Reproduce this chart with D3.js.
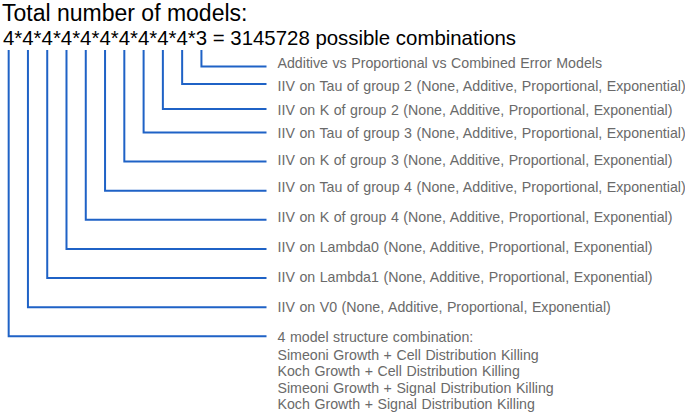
<!DOCTYPE html>
<html>
<head>
<meta charset="utf-8">
<script src="https://cdn.jsdelivr.net/npm/d3@7"></script>
<style>
  html, body { margin: 0; padding: 0; background: #fff; }
  svg { display: block; font-family: "Liberation Sans", Arial, Helvetica, sans-serif; }
</style>
</head>
<body>
<svg id="chart" width="685" height="414"></svg>
<script>
// ---- data ----
const titleText = "Total number of models:";
// number of options per factor, left to right in the product
const factorCounts = [4, 4, 4, 4, 4, 4, 4, 4, 4, 4, 3];
// description of each factor, same order as factorCounts
const factorLabels = [
  ["4 model structure combination:",
   "Simeoni Growth + Cell Distribution Killing",
   "Koch Growth + Cell Distribution Killing",
   "Simeoni Growth + Signal Distribution Killing",
   "Koch Growth + Signal Distribution Killing"],
  ["IIV on V0 (None, Additive, Proportional, Exponential)"],
  ["IIV on Lambda1 (None, Additive, Proportional, Exponential)"],
  ["IIV on Lambda0 (None, Additive, Proportional, Exponential)"],
  ["IIV on K of group 4 (None, Additive, Proportional, Exponential)"],
  ["IIV on Tau of group 4 (None, Additive, Proportional, Exponential)"],
  ["IIV on K of group 3 (None, Additive, Proportional, Exponential)"],
  ["IIV on Tau of group 3 (None, Additive, Proportional, Exponential)"],
  ["IIV on K of group 2 (None, Additive, Proportional, Exponential)"],
  ["IIV on Tau of group 2 (None, Additive, Proportional, Exponential)"],
  ["Additive vs Proportional vs Combined Error Models"]
];
const resultSuffix = "possible combinations";

// ---- drawing ----
const svg = d3.select("#chart");
const lineColor = "#1f62c6";
const labelColor = "#6a6a6a";
const n = factorCounts.length;
const total = factorCounts.reduce((a, b) => a * b, 1);

svg.append("text")
  .attr("x", 2).attr("y", 20.5)
  .attr("font-size", 23).attr("fill", "#000")
  .text(titleText);

// product line, one tspan per character so digit positions can be measured
const productStr = factorCounts.join("*");
const prodText = svg.append("text")
  .attr("x", 3).attr("y", 45)
  .attr("font-size", 20.4).attr("fill", "#000");
prodText.append("tspan").text(productStr);
prodText.append("tspan").text(" = " + total + " " + resultSuffix);

const node = prodText.node();
// digit character indices: 0,2,4,...
const digitX = factorCounts.map((d, i) => {
  const ext = node.getExtentOfChar(i * 2);
  return ext.x + ext.width / 2;
});

// rows: row 0 is the last factor (top), row n-1 is the first factor (bottom)
const rowOf = i => n - 1 - i;
const lineY = d3.scaleLinear()
  .domain([0, 1, 2, 3, n - 1])
  .range([66.5, 84, 109, 132.5, 336.3]);
const labelY = d3.scaleLinear()
  .domain([0, 3, 5, n - 1])
  .range([67.5, 138, 192, 342]);

const topY = 50;
const lineEndX = 266.5;
const labelX = 277.5;

svg.append("g")
  .selectAll("path")
  .data(factorCounts)
  .join("path")
  .attr("d", (d, i) => d3.line()([[digitX[i], topY], [digitX[i], lineY(rowOf(i))], [lineEndX, lineY(rowOf(i))]]))
  .attr("fill", "none")
  .attr("stroke", lineColor)
  .attr("stroke-width", 2);

const lbl = svg.append("g")
  .attr("font-size", 14.2)
  .attr("word-spacing", 0.6)
  .attr("fill", labelColor)
  .selectAll("text")
  .data(factorLabels)
  .join("text")
  .attr("x", labelX)
  .attr("y", (d, i) => labelY(rowOf(i)));
lbl.selectAll("tspan")
  .data(d => d)
  .join("tspan")
  .attr("x", labelX)
  .attr("dy", (d, j) => j === 0 ? 0 : (j === 1 ? 17.6 : 16.5))
  .text(d => d);
</script>
</body>
</html>
